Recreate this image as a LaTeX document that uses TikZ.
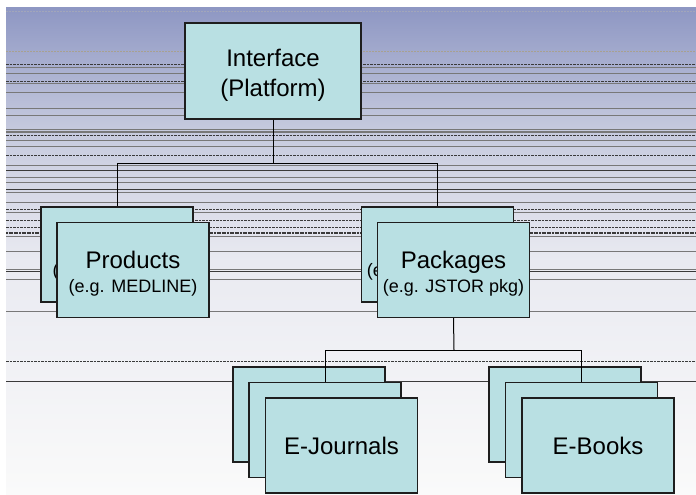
\documentclass[tikz,border=0pt]{standalone}
\usepackage{fontspec}
\setmainfont{Liberation Sans}
\definecolor{bgtop}{HTML}{8E97C3}
\definecolor{bgmid}{HTML}{C6CADE}
\definecolor{bglow}{HTML}{E9EAF1}
\definecolor{bgend}{HTML}{FAFAFA}
\definecolor{boxfill}{HTML}{B9E0E3}
\definecolor{boxline}{HTML}{1E1E1E}
\definecolor{rulegray}{HTML}{787878}
\definecolor{ruledark}{HTML}{3A3A3A}
\definecolor{rulelight}{HTML}{A2A6BA}
\definecolor{ruletan}{HTML}{A8A190}
\tikzset{
  card/.style={draw=boxline, fill=boxfill, line width=1.2pt,
    minimum width=152pt, minimum height=95pt, inner sep=0pt,
    align=center, text=black},
  bigtxt/.style={font=\fontsize{24}{30}\selectfont},
  twoline/.style={font=\fontsize{18}{24}\selectfont, text height=44pt, text depth=0pt},
  rulethin/.style={draw=rulegray, line width=0.7pt},
  rulethick/.style={draw=rulegray, line width=1.3pt},
  ruledash/.style={draw=ruledark, line width=0.7pt, dash pattern=on 2.5pt off 1pt},
  ruleblack/.style={draw=ruledark, line width=0.8pt},
  rulefaint/.style={draw=rulelight, line width=0.6pt, dash pattern=on 2pt off 1pt},
  link/.style={draw=black, line width=1pt},
}
\newcommand{\cardtitle}[1]{{\fontsize{24}{24}\selectfont #1}}
\begin{document}
\begin{tikzpicture}[x=1pt, y=-1pt]
\useasboundingbox (0,0) rectangle (696,495);
\fill[white] (0,0) rectangle (696,495);

% background gradient
\shade[top color=bgtop, bottom color=bgmid] (6,8) rectangle (696,130);
\shade[top color=bgmid, bottom color=bglow] (6,130) rectangle (696,260);
\shade[top color=bglow, bottom color=bgend] (6,260) rectangle (696,494);

% horizontal rules behind the chart
\draw[rulefaint] (6,11) -- (696,11);
\draw[draw=ruletan, line width=0.6pt, dash pattern=on 2pt off 1pt] (6,51) -- (696,51);
\foreach \y in {64,81,135,155,209,220,227,361}
  \draw[ruledash] (6,\y) -- (696,\y);
\foreach \y in {67,73,83,92,108,115,129,140,146,165,177,182,192,202,212,236,251,269,279,311}
  \draw[rulethin] (6,\y) -- (696,\y);
\foreach \y in {170,189,271,381}
  \draw[ruleblack] (6,\y) -- (696,\y);
\draw[rulethick] (6,132) -- (696,132);
\draw[draw=ruledark, line width=1.4pt, dash pattern=on 2pt off 0.6pt] (6,233) -- (696,233);

% top level
\node[card, minimum width=176pt, minimum height=96pt, bigtxt, text height=51pt, text depth=0pt]
  (iface) at (273,71) {Interface\\(Platform)};

% second level: stacked cards
\node[card, twoline] (prodB) at (117,254.5) {\cardtitle{Products}\\(e.g. MEDLINE)};
\node[card, twoline] (prod) at (133,270) {\cardtitle{Products}\\(e.g. MEDLINE)};
\node[card, twoline] (pkgB) at (437.5,254.5) {\cardtitle{Packages}\\(e.g. JSTOR pkg)};
\node[card, twoline] (pkg) at (453.5,270) {\cardtitle{Packages}\\(e.g. JSTOR pkg)};

% third level, rear and middle cards
\node[card] (ejB) at (309,414.5) {};
\node[card] (ebB) at (565,414.5) {};
\node[card] (ejM) at (325,430) {};
\node[card] (ebM) at (581.5,430) {};

% connectors
\coordinate (busA) at (273,163);
\coordinate (busB) at (454,350);
\draw[link] (iface.south) -- (busA);
\draw[link] (busA) -| (prodB.north);
\draw[link] (busA) -| (pkgB.north);
\draw[link] (pkg.south) -- (busB);
\draw[link] (busB) -| (ejM.north);
\draw[link] (busB) -| (ebM.north);

% third level, front cards
\node[card, bigtxt] (ej) at (341.5,445.5) {E-Journals};
\node[card, bigtxt] (eb) at (598,445.5) {E-Books};
\end{tikzpicture}
\end{document}
